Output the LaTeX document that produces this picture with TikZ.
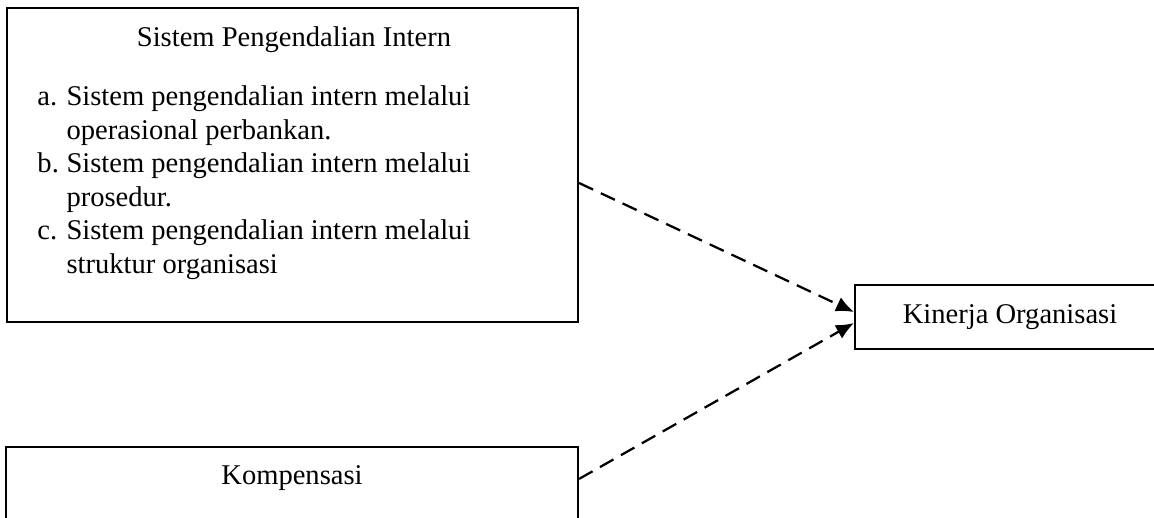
\documentclass[tikz,border=0pt]{standalone}
\usepackage{amsfonts,amssymb,amsmath}
\usepackage{fontspec}
\setmainfont{Liberation Serif}
\usepackage{xcolor}
\usetikzlibrary{arrows,arrows.meta,calc,positioning,shapes.misc}

\tikzset{
  kotak/.style={draw, line width=0.9pt, inner sep=0pt},
  teks/.style={inner sep=0pt, font=\fontsize{12}{14.03}\selectfont},
  panah/.style={line width=0.95pt, dash pattern=on 6.5pt off 3.6pt, -{Latex[length=7.5pt,width=6.5pt]}}
}
\newcommand{\butir}[1]{\makebox[12.2pt][l]{#1}}

\begin{document}
\begin{tikzpicture}[x=0.42pt,y=-0.42pt]
                \useasboundingbox (0,0) rectangle (1154,517);
                {
                % Drawing box spi
                \node [kotak, minimum width=239.82pt, minimum height=131.88pt] (spi) at (292.5,165) {};%

                % Drawing box komp
                \node [kotak, minimum width=240.24pt, minimum height=46.2pt] (komp) at (292,502) {};%

                % Drawing box kin
                \node [kotak, minimum width=130.2pt, minimum height=26.88pt] (kin) at (1010,317) {};%

                % Marking title spi
                \node [teks, anchor=base] (spijudul) at (294,46) {Sistem Pengendalian Intern};%

                % Marking list spi
                \node [teks, anchor=base west, align=left] (spidaftar) at (37,273)
                  {\butir{a.}Sistem pengendalian intern melalui\\
                   \hspace*{12.2pt}operasional perbankan.\\
                   \butir{b.}Sistem pengendalian intern melalui\\
                   \hspace*{12.2pt}prosedur.\\
                   \butir{c.}Sistem pengendalian intern melalui\\
                   \hspace*{12.2pt}struktur organisasi};%

                % Marking title komp
                \node [teks, anchor=base] (kompjudul) at (292,484) {Kompensasi};%

                % Marking title kin
                \node [teks, anchor=base] (kinjudul) at (1010,323) {Kinerja Organisasi};%

                % Drawing arrow spi kin
                \draw [panah] ($(spi.east)+(0,18)$) -- ($(kin.west)+(0,-5)$);%

                % Drawing arrow komp kin
                \draw [panah] ($(komp.north east)+(0,33)$) -- ($(kin.west)+(0,6)$);%
                }
\end{tikzpicture}
\end{document}
